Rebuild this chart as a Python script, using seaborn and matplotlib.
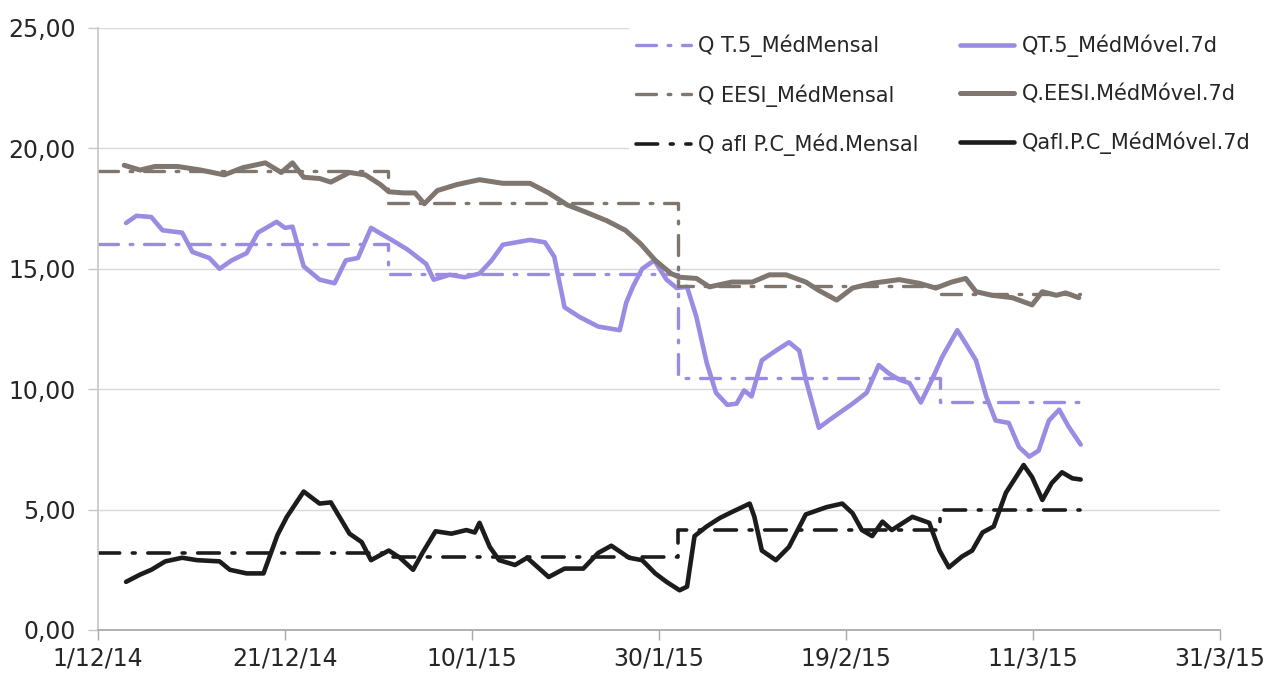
import pandas as pd
import matplotlib
matplotlib.use("Agg")
import matplotlib.pyplot as plt
import seaborn as sns

# Dias contados a partir de 1/12/14
inicio = pd.Timestamp("2014-12-01")

# Médias mensais (início de cada mês) e fim da série
meses = ["2014-12-01", "2015-01-01", "2015-02-01", "2015-03-01"]
fim_serie = "2015-03-16"
t5_mensal = [16.05, 14.8, 10.45, 9.45]
eesi_mensal = [19.05, 17.75, 14.3, 13.95]
pc_mensal = [3.2, 3.05, 4.15, 5.0]

# Médias móveis de 7 dias
t5_dias = [3.0, 4.1, 5.7, 6.9, 9.0, 10.1, 11.9, 13.0, 14.3, 15.9, 17.1, 19.1, 20.0, 20.8,
           22.0, 23.7, 25.3, 26.5, 27.8, 29.2, 31.4, 33.1, 35.1, 35.9, 37.6, 39.2, 40.8,
           42.1, 43.3, 46.2, 47.8, 48.8, 49.9, 51.5, 53.5, 55.8, 56.5, 57.2, 58.2, 59.5,
           60.8, 61.9, 63.0, 64.0, 65.1, 66.1, 67.3, 68.3, 69.1, 69.9, 71.0, 72.5, 73.9,
           75.0, 75.7, 77.1, 78.5, 80.7, 82.2, 83.5, 84.6, 85.7, 86.8, 88.0, 89.2, 90.3,
           91.9, 92.8, 93.9, 95.0, 96.0, 97.4, 98.5, 99.6, 100.6, 101.7, 102.8, 103.8, 105.1]
t5_movel = [16.9, 17.2, 17.15, 16.6, 16.5, 15.7, 15.45, 15.0, 15.35, 15.65, 16.5, 16.95, 16.7,
            16.75, 15.1, 14.55, 14.4, 15.35, 15.45, 16.7, 16.2, 15.8, 15.2, 14.55, 14.75, 14.65,
            14.8, 15.35, 16.0, 16.2, 16.1, 15.5, 13.4, 13.0, 12.6, 12.45, 13.6, 14.25, 15.0,
            15.35, 14.55, 14.2, 14.25, 13.0, 11.1, 9.85, 9.35, 9.4, 9.95, 9.7, 11.2, 11.6,
            11.95, 11.6, 10.4, 8.4, 8.8, 9.4, 9.85, 11.0, 10.65, 10.4, 10.25, 9.45, 10.4, 11.35,
            12.45, 11.9, 11.2, 9.7, 8.7, 8.6, 7.6, 7.2, 7.45, 8.7, 9.15, 8.45, 7.7]

eesi_dias = [2.8, 4.5, 6.1, 8.5, 11.0, 13.5, 15.5, 17.9, 19.6, 20.8, 22.0, 23.7, 24.9, 26.9,
             28.6, 30.2, 31.1, 32.7, 33.9, 34.9, 36.3, 38.4, 40.8, 43.3, 46.2, 48.2, 50.2,
             52.2, 54.4, 56.4, 58.0, 59.6, 61.3, 62.2, 64.0, 65.4, 67.8, 70.0, 71.8, 73.6,
             75.7, 77.1, 79.0, 80.7, 82.8, 85.7, 87.8, 89.6, 91.3, 92.8, 93.9, 95.6, 97.8,
             99.9, 101.0, 102.5, 103.5, 104.9]
eesi_movel = [19.3, 19.1, 19.25, 19.25, 19.1, 18.9, 19.2, 19.4, 19.0, 19.4, 18.8, 18.75, 18.6,
              19.0, 18.9, 18.5, 18.2, 18.15, 18.15, 17.7, 18.25, 18.5, 18.7, 18.55, 18.55,
              18.15, 17.65, 17.35, 17.0, 16.6, 16.05, 15.35, 14.8, 14.65, 14.6, 14.25, 14.45,
              14.45, 14.75, 14.75, 14.45, 14.1, 13.7, 14.2, 14.4, 14.55, 14.4, 14.2, 14.45,
              14.6, 14.05, 13.9, 13.8, 13.5, 14.05, 13.9, 14.0, 13.8]

pc_dias = [3.0, 4.5, 5.7, 7.2, 9.0, 10.6, 13.0, 14.1, 15.9, 17.7, 19.2, 20.2, 22.0, 23.7, 24.9,
           26.9, 28.2, 29.2, 31.1, 32.3, 33.7, 34.7, 36.1, 37.8, 39.4, 40.3, 40.8, 41.9, 42.9,
           44.6, 45.9, 48.2, 49.9, 51.9, 53.5, 54.9, 56.8, 58.2, 59.6, 60.8, 62.2, 63.0, 63.8,
           65.1, 66.5, 67.8, 69.7, 70.2, 71.0, 72.5, 73.9, 75.7, 77.9, 79.6, 80.7, 81.7, 82.8,
           83.9, 84.9, 87.1, 88.9, 90.0, 91.0, 92.4, 93.5, 94.6, 95.8, 97.1, 99.0, 99.9, 101.0,
           102.0, 103.1, 104.2, 105.1]
pc_movel = [2.0, 2.3, 2.5, 2.85, 3.0, 2.9, 2.85, 2.5, 2.35, 2.35, 3.95, 4.7, 5.75, 5.25, 5.3,
            4.0, 3.65, 2.9, 3.3, 3.0, 2.5, 3.2, 4.1, 4.0, 4.15, 4.05, 4.45, 3.45, 2.9, 2.7, 3.0,
            2.2, 2.55, 2.55, 3.2, 3.5, 3.0, 2.9, 2.35, 2.0, 1.65, 1.8, 3.9, 4.3, 4.65, 4.9, 5.25,
            4.7, 3.3, 2.9, 3.45, 4.8, 5.1, 5.25, 4.85, 4.15, 3.9, 4.5, 4.15, 4.7, 4.45, 3.3, 2.6,
            3.05, 3.3, 4.05, 4.3, 5.7, 6.85, 6.35, 5.4, 6.1, 6.55, 6.3, 6.25]

ticks_x = ["2014-12-01", "2014-12-21", "2015-01-10", "2015-01-30",
           "2015-02-19", "2015-03-11", "2015-03-31"]
ticks_y = [0, 5, 10, 15, 20, 25]

nomes = ["Q T.5_MédMensal", "QT.5_MédMóvel.7d",
         "Q EESI_MédMensal", "Q.EESI.MédMóvel.7d",
         "Q afl P.C_Méd.Mensal", "Qafl.P.C_MédMóvel.7d"]

cor_t5 = "#9b8be2"
cor_eesi = "#7e766f"
cor_pc = "#1c1c1c"


def serie_mensal(valores):
    datas = pd.to_datetime(meses + [fim_serie])
    return pd.DataFrame({"data": datas, "valor": valores + [valores[-1]]})


def serie_movel(dias, valores):
    datas = inicio + pd.to_timedelta(dias, unit="D")
    return pd.DataFrame({"data": datas, "valor": valores})


sns.set_theme(style="white")
plt.rcParams["font.family"] = ["DejaVu Sans"]

fig = plt.figure(figsize=(12.7, 6.74), dpi=100)
ax = fig.add_axes([98 / 1270, 44 / 674, 1122 / 1270, 602 / 674])

traco = (0, (6, 3.5, 0.8, 3.5))
series = [
    (serie_mensal(t5_mensal), cor_t5, 2.4, traco),
    (serie_movel(t5_dias, t5_movel), cor_t5, 3.3, "-"),
    (serie_mensal(eesi_mensal), cor_eesi, 2.4, traco),
    (serie_movel(eesi_dias, eesi_movel), cor_eesi, 3.6, "-"),
    (serie_mensal(pc_mensal), cor_pc, 2.6, traco),
    (serie_movel(pc_dias, pc_movel), cor_pc, 3.3, "-"),
]
for (df, cor, lw, ls), nome in zip(series, nomes):
    extra = {"drawstyle": "steps-post"} if ls != "-" else {}
    sns.lineplot(data=df, x="data", y="valor", ax=ax, color=cor, linewidth=lw,
                 linestyle=ls, label=nome, estimator=None, sort=False,
                 dash_capstyle="round", solid_capstyle="round", **extra)

ax.set_xlim(pd.Timestamp(ticks_x[0]), pd.Timestamp(ticks_x[-1]))
ax.set_ylim(0, 25)
ax.set_xlabel("")
ax.set_ylabel("")

datas_ticks = pd.to_datetime(ticks_x)
ax.set_xticks(datas_ticks)
ax.set_xticklabels([f"{d.day}/{d.month}/{d.strftime('%y')}" for d in datas_ticks])
ax.set_yticks(ticks_y)
ax.set_yticklabels([f"{v:.2f}".replace(".", ",") for v in ticks_y])

ax.grid(axis="y", color="#d9d9d9", linewidth=1.0)
ax.grid(axis="x", visible=False)
for lado in ["top", "right"]:
    ax.spines[lado].set_visible(False)
ax.spines["left"].set_color("#c8c8c8")
ax.spines["bottom"].set_color("#a8a8a8")
ax.tick_params(axis="x", direction="out", length=7, width=1, color="#a8a8a8",
               labelsize=17, labelcolor="#262626", pad=5, bottom=True)
ax.tick_params(axis="y", direction="out", length=7, width=1, color="#c8c8c8",
               labelsize=17, labelcolor="#262626", pad=9, left=True)

h, l = ax.get_legend_handles_labels()
ordem = [0, 2, 4, 1, 3, 5]
leg = ax.legend([h[i] for i in ordem], [l[i] for i in ordem], ncol=2,
                loc="upper right", bbox_to_anchor=(1268 / 1270, 1 - 17 / 674),
                bbox_transform=fig.transFigure, fontsize=15, frameon=True,
                facecolor="white", edgecolor="none", framealpha=1,
                handlelength=2.6, handletextpad=0.35, columnspacing=2.0,
                labelspacing=1.3, borderpad=0.35, fancybox=False)
for t in leg.get_texts():
    t.set_color("#262626")

fig.savefig("out.png", dpi=100)
